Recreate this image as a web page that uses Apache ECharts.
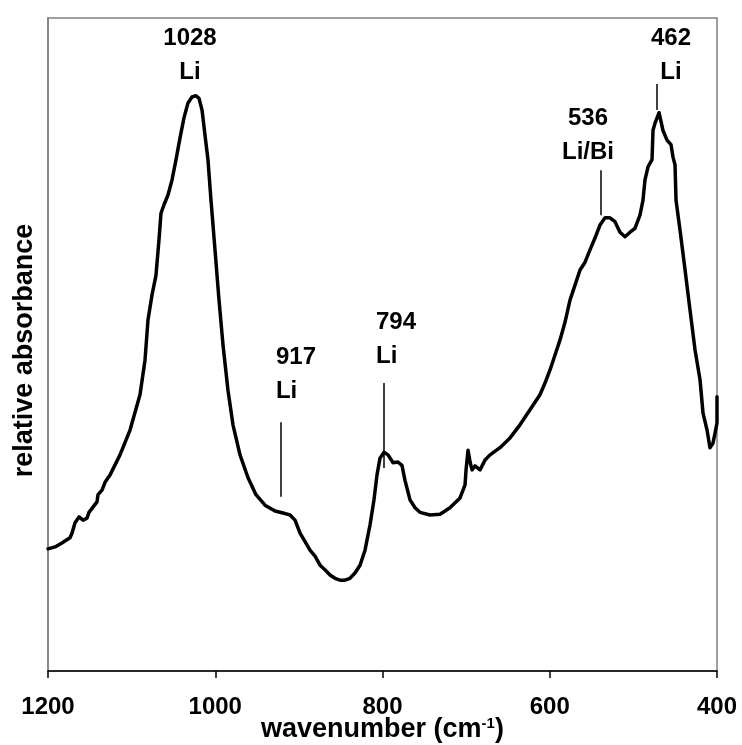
<!DOCTYPE html>
<html>
<head>
<meta charset="utf-8">
<script src="https://cdn.jsdelivr.net/npm/echarts@6/dist/echarts.min.js"></script>
<style>
html,body{margin:0;padding:0;background:#fff;}
#chart{width:742px;height:745px;}
</style>
</head>
<body>
<div id="chart"></div>
<script>
// Spectrum: wavenumber (cm-1) and relative absorbance (arbitrary units)
const wavenumber = [1200,1191.6,1183.3,1179.7,1173.7,1171.3,1167.7,1162.9,1158.1,1153.4,1151.0,1146.2,1141.4,1140.2,1135.4,1131.8,1125.9,1113.9,1101.9,1090.0,1084.0,1080.4,1075.6,1070.9,1067.3,1064.9,1061.3,1056.5,1051.7,1046.9,1042.2,1037.4,1032.6,1027.8,1023.0,1019.4,1015.8,1012.3,1008.7,1005.1,1000.3,995.5,990.7,984.8,978.8,970.4,960.8,951.3,940.5,928.5,919.0,910.6,904.6,898.6,892.6,886.7,880.7,874.7,868.8,862.8,856.8,850.8,844.9,838.9,832.9,826.9,820.9,814.9,810.2,806.6,803.0,798.2,793.4,787.4,781.5,776.7,773.1,767.1,761.1,755.2,743.2,731.2,719.3,707.3,701.3,700.1,697.7,695.3,692.9,689.4,683.4,677.4,671.4,659.5,647.5,635.6,623.6,611.7,605.7,599.7,593.7,587.7,581.8,575.8,569.8,563.8,557.8,551.9,545.9,539.9,533.9,528.0,522.0,516.0,510.0,504.0,498.1,492.1,488.5,486.1,482.5,477.7,476.5,474.1,469.3,464.6,459.8,455.0,452.6,450.2,449.0,444.2,438.2,432.3,426.3,420.3,416.7,411.9,408.4,404.8,402.4,400.0,400.0];
const absorbance = [0.187,0.190,0.196,0.199,0.204,0.211,0.227,0.236,0.231,0.234,0.243,0.251,0.259,0.270,0.277,0.289,0.300,0.331,0.369,0.423,0.476,0.538,0.576,0.606,0.660,0.701,0.714,0.729,0.752,0.783,0.816,0.847,0.870,0.879,0.881,0.877,0.859,0.821,0.783,0.721,0.645,0.568,0.499,0.430,0.377,0.331,0.296,0.270,0.254,0.245,0.242,0.239,0.231,0.211,0.198,0.185,0.176,0.162,0.155,0.147,0.142,0.139,0.139,0.142,0.150,0.162,0.185,0.224,0.262,0.300,0.326,0.335,0.331,0.319,0.320,0.315,0.292,0.262,0.250,0.243,0.239,0.240,0.250,0.265,0.285,0.308,0.338,0.320,0.308,0.314,0.308,0.323,0.331,0.342,0.357,0.377,0.400,0.423,0.441,0.461,0.484,0.507,0.534,0.568,0.591,0.614,0.626,0.645,0.663,0.683,0.694,0.694,0.688,0.672,0.665,0.672,0.678,0.698,0.721,0.752,0.772,0.783,0.828,0.839,0.855,0.828,0.813,0.806,0.787,0.775,0.721,0.675,0.614,0.553,0.492,0.446,0.395,0.369,0.342,0.349,0.364,0.380,0.420];

// x-axis ticks
const xTicks = [1200, 1000, 800, 600, 400];

// Peak annotations (text blocks)
const annoText  = ['1028\nLi', '917\nLi', '794\nLi', '536\nLi/Bi', '462\nLi'];
const annoX     = [1030.2, 927.4, 807.8, 554.3, 455.0];
const annoY     = [0.943, 0.454, 0.508, 0.821, 0.943];
const annoAlign = ['center', 'left', 'left', 'center', 'center'];

// Peak marker lines
const markX  = [921.4, 798.2, 538.7, 471.8];
const markY0 = [0.267, 0.311, 0.698, 0.859];
const markY1 = [0.381, 0.441, 0.767, 0.899];

const FONT = '"Liberation Sans", Arial, sans-serif';

const chart = echarts.init(document.getElementById('chart'), null, {renderer: 'canvas'});

const spectrum = wavenumber.map((w, i) => [w, absorbance[i]]);
const annoData = annoText.map((t, i) => ({
  value: [annoX[i], annoY[i]],
  label: {
    show: true, formatter: t, position: 'inside',
    align: annoAlign[i], verticalAlign: 'middle',
    fontFamily: FONT, fontWeight: 'bold', fontSize: 24, lineHeight: 34, color: '#000'
  }
}));
const markData = markX.map((x, i) => [{coord: [x, markY0[i]]}, {coord: [x, markY1[i]]}]);

chart.setOption({
  animation: false,
  backgroundColor: '#fff',
  grid: {
    left: 48, right: 25, top: 18, bottom: 74,
    outerBoundsMode: 'none', containLabel: false,
    show: true, borderColor: '#808080', borderWidth: 1.5, backgroundColor: 'transparent'
  },
  xAxis: {
    type: 'value', min: 400, max: 1200, interval: 200, inverse: true,
    name: 'wavenumber (cm{sup|-1})',
    nameLocation: 'middle', nameGap: 45, nameMoveOverlap: false,
    nameTextStyle: {
      fontFamily: FONT, fontWeight: 'bold', fontSize: 27, color: '#000', lineHeight: 28,
      rich: { sup: { fontFamily: FONT, fontWeight: 'bold', fontSize: 15, color: '#000', verticalAlign: 'top', lineHeight: 15 } }
    },
    axisLine: { show: true, lineStyle: { color: '#000', width: 1.5 } },
    axisTick: { show: true, length: 7, lineStyle: { color: '#000', width: 1.5 } },
    axisLabel: {
      margin: 24, fontFamily: FONT, fontWeight: 'bold', fontSize: 24, color: '#000',
      formatter: v => xTicks.includes(v) ? String(v) : ''
    },
    splitLine: { show: false }
  },
  yAxis: {
    type: 'value', min: 0, max: 1,
    name: 'relative absorbance',
    nameLocation: 'middle', nameGap: 10, nameRotate: 90, nameMoveOverlap: false,
    nameTextStyle: { fontFamily: FONT, fontWeight: 'bold', fontSize: 27, color: '#000', padding: [0, 12, 0, 0] },
    axisLine: { show: true, lineStyle: { color: '#808080', width: 1.5 } },
    axisTick: { show: false },
    axisLabel: { show: false },
    splitLine: { show: false }
  },
  series: [
    {
      type: 'line', data: spectrum, showSymbol: false, symbol: 'none', smooth: false,
      lineStyle: { color: '#000', width: 3.5, join: 'round', cap: 'round' },
      silent: true,
      markLine: {
        silent: true, symbol: 'none', label: { show: false },
        lineStyle: { color: '#000', width: 1.5, type: 'solid' },
        data: markData
      }
    },
    {
      type: 'scatter', data: annoData, symbolSize: 0, silent: true,
      itemStyle: { opacity: 1, color: '#000' }
    }
  ]
});
</script>
</body>
</html>
